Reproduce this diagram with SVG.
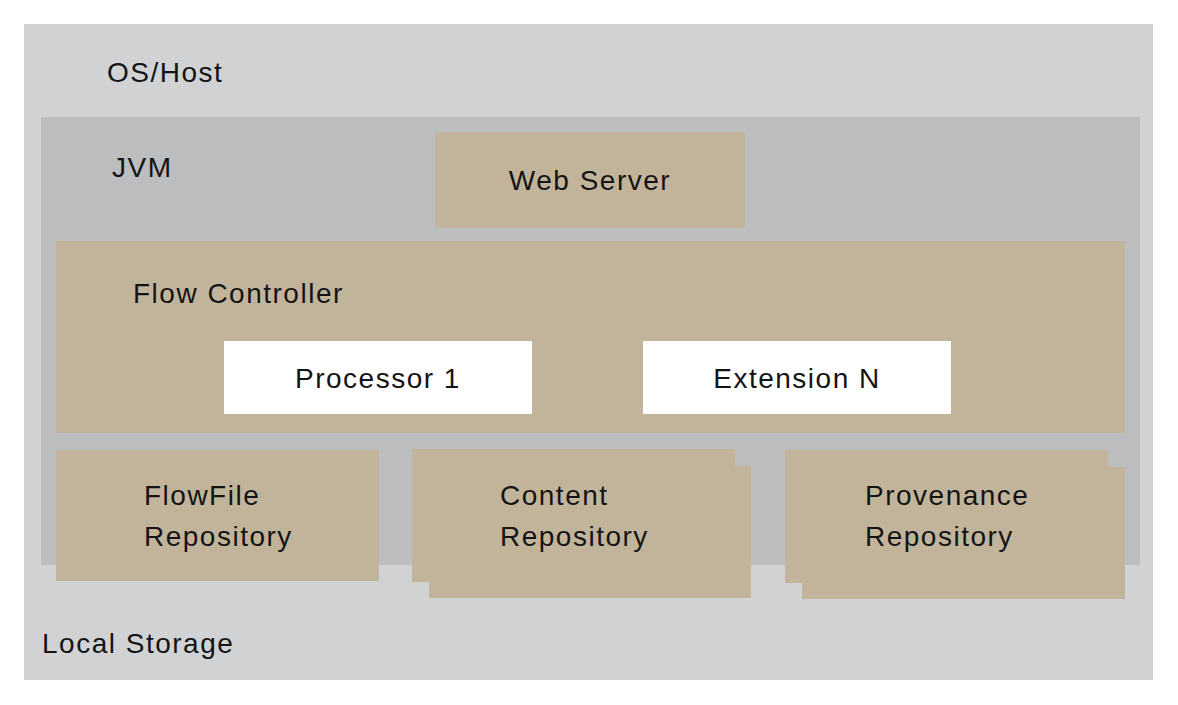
<svg xmlns="http://www.w3.org/2000/svg" width="1178" height="705" viewBox="0 0 1178 705">
<style>
text { font-family: "Liberation Sans", Arial, sans-serif; font-size: 28px; fill: #141414; letter-spacing: 1.5px; }
.os { fill: #d1d2d4; }
.jvm { fill: #bcbdbf; }
.tan { fill: #c2b49b; }
.white { fill: #ffffff; }
.mid { text-anchor: middle; }
</style>
<rect x="0" y="0" width="1178" height="705" fill="#ffffff"/>
<g id="os-host">
<rect class="os" x="24" y="24" width="1129" height="656"/>
<text x="107" y="82">OS/Host</text>
</g>
<g id="local-storage">
<text x="42" y="653">Local Storage</text>
</g>
<g id="jvm">
<rect class="jvm" x="41" y="117" width="1099" height="448"/>
<text x="112" y="177">JVM</text>
</g>
<g id="web-server">
<rect class="tan" x="435" y="132" width="310" height="96"/>
<text class="mid" x="590" y="190">Web Server</text>
</g>
<g id="flow-controller">
<rect class="tan" x="56" y="241" width="1069" height="192"/>
<text x="133" y="303">Flow Controller</text>
</g>
<g id="processor-1">
<rect class="white" x="224" y="341" width="308" height="73"/>
<text class="mid" x="378" y="388">Processor 1</text>
</g>
<g id="extension-n">
<rect class="white" x="643" y="341" width="308" height="73"/>
<text class="mid" x="797" y="388">Extension N</text>
</g>
<g id="flowfile-repository">
<rect class="tan" x="56" y="450" width="323" height="131"/>
<text x="144" y="505">FlowFile</text>
<text x="144" y="546">Repository</text>
</g>
<g id="content-repository">
<rect class="tan" x="429" y="466" width="322" height="132"/>
<rect class="tan" x="412" y="449" width="323" height="133"/>
<text x="500" y="505">Content</text>
<text x="500" y="546">Repository</text>
</g>
<g id="provenance-repository">
<rect class="tan" x="802" y="467" width="323" height="132"/>
<rect class="tan" x="785" y="450" width="323" height="133"/>
<text x="865" y="505">Provenance</text>
<text x="865" y="546">Repository</text>
</g>
<g id="connectors"></g>
</svg>
